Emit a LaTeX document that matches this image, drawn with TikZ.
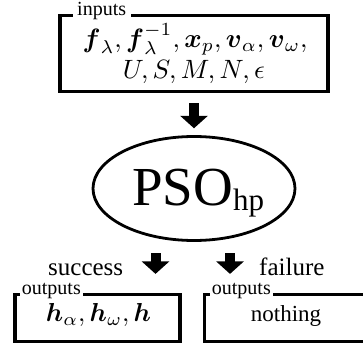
\documentclass[tikz,border=0pt]{standalone}
\usepackage{amsmath}
\usepackage{graphicx}
\usepackage[no-math]{fontspec}
\setmainfont{Liberation Serif}
\usetikzlibrary{arrows.meta,shapes.geometric}
\begin{document}
\begin{tikzpicture}[x=1pt,y=-1pt,
  box/.style={draw, line width=3.2pt, rectangle, inner sep=0pt},
  oval/.style={draw, line width=2.8pt, ellipse, inner sep=0pt},
  tag/.style={fill=white, inner ysep=0pt, font=\fontsize{20}{24}\selectfont, anchor=base west},
  fatarrow/.style={line width=10pt, -{Triangle[width=27pt,length=12.5pt]}},
  big/.style={font=\fontsize{25}{30}\selectfont, anchor=base west, inner sep=0pt},
  mathtxt/.style={anchor=base, inner sep=0pt},
]
\clip (0,0) rectangle (363,344);
% inputs
\node[box, minimum width=268pt, minimum height=76pt] (inputs) at (194,53.5) {};
\node[tag, inner xsep=4.5pt] (tin) at (72.5,16) {inputs};
\node[mathtxt] (in1) at (195,47.5)
  {\scalebox{2.65}{$\boldsymbol{f}_\lambda, \boldsymbol{f}_\lambda^{-1}, \boldsymbol{x}_p, \boldsymbol{v}_\alpha, \boldsymbol{v}_\omega,$}};
\node[mathtxt] (in2) at (194,78.5)
  {\scalebox{2.65}{$U, S, M, N, \epsilon$}};
% PSO
\node[oval, minimum width=202pt, minimum height=104pt] (pso) at (194,188.5) {};
\node[anchor=base west, inner sep=0pt, font=\fontsize{55}{60}\selectfont] (psot) at (132,205.5)
  {PSO\raisebox{-5pt}{\fontsize{31}{34}\selectfont hp}};
\draw[fatarrow, shorten <=10.2pt, shorten >=6.8pt] (inputs.south) -- (pso.north);
% outputs
\node[box, minimum width=165pt, minimum height=47pt] (outL) at (97.5,318) {};
\node[box, minimum width=165.5pt, minimum height=47pt] (outR) at (287.25,318) {};
\node[tag, inner xsep=2pt] (toutL) at (19.7,294.5) {outputs};
\node[tag, inner xsep=2pt] (toutR) at (209.7,294.5) {outputs};
\node[mathtxt] (hout) at (98.5,321.7)
  {\scalebox{2.6}{$\boldsymbol{h}_\alpha, \boldsymbol{h}_\omega, \boldsymbol{h}$}};
\node[anchor=base, inner sep=0pt, font=\fontsize{23}{28}\selectfont] (noth) at (286,321.7) {nothing};
\node[big] (succ) at (48,275) {success};
\node[big] (fail) at (259,275) {failure};
\coordinate (sa) at (155.5,253);
\coordinate (fa) at (230,253);
\draw[fatarrow, shorten >=19pt] (sa) -- (sa |- outL.north);
\draw[fatarrow, shorten >=19pt] (fa) -- (fa |- outR.north);
\end{tikzpicture}
\end{document}
